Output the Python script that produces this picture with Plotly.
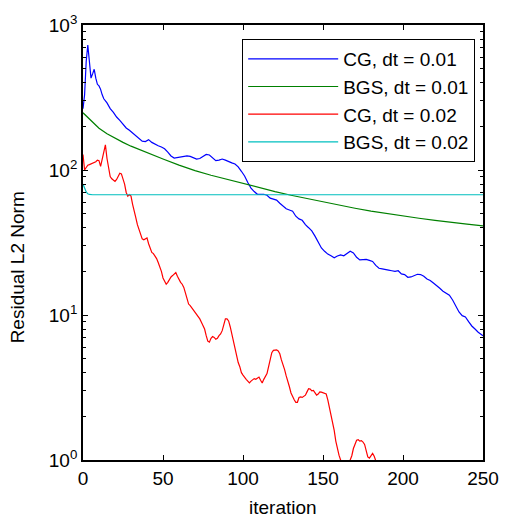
import plotly.graph_objects as go

# ---------------- data ----------------
cg1_it = [0, 1, 2, 3, 4, 5, 6, 7, 8, 9, 10, 11, 12, 13, 15, 17, 19, 21, 23, 25, 27, 29, 31, 33, 35, 37, 39,
          41, 43, 45, 47, 49, 51, 53, 55, 57, 59, 61, 63, 65, 67, 69, 71, 73, 75, 77, 79, 81, 83, 85, 87, 89,
          91, 93, 95, 97, 99, 101, 103, 105, 107, 109, 111, 113, 115, 117, 119, 121, 123, 125, 127, 129, 131,
          133, 135, 137, 139, 141, 143, 145, 147, 149, 151, 153, 155, 157, 159, 161, 163, 165, 167, 169, 171,
          173, 175, 177, 179, 181, 183, 185, 187, 189, 191, 193, 195, 197, 199, 201, 203, 205, 207, 209, 211,
          213, 215, 217, 219, 221, 223, 225, 227, 229, 231, 233, 235, 237, 239, 241, 243, 245, 247, 250]
cg1_val = [265, 330, 560, 728, 560, 430, 460, 495, 430, 390, 380, 360, 330, 310, 290, 265, 250, 232, 220, 208,
           195, 188, 180, 174, 165, 158, 157, 162, 155, 150, 147, 144, 140, 133, 125, 121, 122, 124, 125, 125,
           124, 121, 119, 120, 124, 128, 127, 121, 116, 117, 119, 117, 114, 112, 110, 105, 98, 91, 82, 75, 71,
           68, 68, 68, 67, 64, 63, 62, 59, 56, 54, 53, 52, 48, 46, 45, 42, 40, 38, 35, 32, 29, 27.5, 26.3, 25.6,
           24.8, 25.5, 26.0, 25.6, 26.5, 27.5, 26.8, 25, 24, 24, 24.2, 23.8, 23.4, 22, 21, 20.8, 20.7, 20.4, 20.2,
           20.0, 20.2, 19.2, 19.0, 18.2, 18.3, 18.8, 19.1, 19.0, 18.5, 17.7, 17.3, 16.6, 16.0, 15.3, 14.6, 14.1,
           13.7, 12.7, 11.5, 10.5, 9.9, 9.7, 9.0, 8.4, 8.0, 7.6, 7.2]

bgs1_it = [0, 5, 10, 15, 20, 25, 30, 40, 50, 60, 70, 80, 90, 100, 110, 120, 130, 140, 150, 160, 170, 180,
           190, 200, 210, 220, 230, 240, 250]
bgs1_val = [248, 218, 194, 178, 165, 155, 146, 131, 119, 108, 99, 92, 86, 81, 76, 71, 67, 63.5, 60, 57, 54.5,
            52, 50, 48, 46.5, 45, 43.5, 42.3, 41.2]

cg2_it = list(range(0, 162)) + [162, 164, 166, 167, 168, 169, 170, 171, 172, 173, 174, 175, 176, 177, 178,
                                179, 180, 181, 182, 183, 184, 186]
cg2_val = [128, 100, 104, 108, 109, 110, 112, 112, 114, 117, 116, 106, 118, 135, 149, 120, 100, 90, 87, 85,
           83.5, 86, 91, 95, 94, 87, 80, 70, 66, 67.6, 66, 58, 51, 47, 42, 39, 36, 33.5, 33, 33.5, 34, 31,
           28.5, 27, 26.5, 25.5, 24.5, 23, 21.5, 20, 18, 17, 16.3, 16.8, 17.6, 18.3, 18.7, 19.2, 19.6, 18.5,
           17.5, 16.8, 16.3, 15.5, 14.2, 12.8, 11.9, 11.6, 11.2, 10.8, 10.4, 10.2, 9.8, 9.4, 8.9, 8.4, 8.0,
           7.2, 6.6, 6.5, 6.9, 7.1, 7.0, 6.8, 6.9, 7.2, 7.4, 7.8, 8.8, 9.4, 9.4, 9.1, 8.3, 7.4, 6.6, 5.8, 5.1,
           4.7, 4.4, 4.0, 3.85, 3.7, 3.6, 3.5, 3.4, 3.5, 3.6, 3.64, 3.6, 3.65, 3.73, 3.55, 3.4, 3.6, 3.8, 3.94,
           4.4, 5.0, 5.5, 5.7, 5.75, 5.75, 5.65, 5.4, 4.9, 4.6, 4.2, 3.8, 3.4, 3.2, 2.9, 2.7, 2.6, 2.5, 2.5,
           2.7, 2.72, 2.7, 2.75, 2.8, 2.95, 3.1, 3.08, 3.0, 3.02, 2.9, 2.8, 2.85, 2.95, 2.94, 2.9, 2.88, 2.85,
           2.6, 2.3, 2.05, 1.85, 1.6, 1.35, 1.17, 1.08, 1.0,
           0.9, 0.8, 0.9, 1.0, 1.07, 1.2, 1.3, 1.37, 1.38, 1.35, 1.36, 1.33, 1.28, 1.15, 1.05, 1.03, 1.08,
           1.11, 1.06, 1.0, 0.92, 0.8]

bgs2_it = [0, 1, 2, 3, 4, 6, 50, 100, 150, 200, 250]
bgs2_val = [80, 74, 70.5, 68.5, 67.8, 67.5, 67.5, 67.5, 67.5, 67.5, 67.5]

series_names = ["CG, dt = 0.01", "BGS, dt = 0.01", "CG, dt = 0.02", "BGS, dt = 0.02"]
series_colors = ["#0000FF", "#008000", "#FF0000", "#00BFBF"]

x_ticks = [0, 50, 100, 150, 200, 250]
y_tickvals = [1, 10, 100, 1000]
y_ticktext = ["10<sup>0</sup>", "10<sup>1</sup>", "10<sup>2</sup>", "10<sup>3</sup>"]
y_minor = [m * 10 ** e for e in range(0, 3) for m in range(2, 10)]

# ---------------- figure ----------------
FONT = "Liberation Sans, Arial, Helvetica, sans-serif"
fig = go.Figure()
for i, (xs, ys) in enumerate([(cg1_it, cg1_val), (bgs1_it, bgs1_val), (cg2_it, cg2_val), (bgs2_it, bgs2_val)]):
    fig.add_trace(go.Scatter(x=xs, y=ys, mode="lines", name=series_names[i], legendgroup=str(i),
                             line=dict(color=series_colors[i], width=1.2)))

fig.update_layout(
    width=511, height=518,
    margin=dict(l=83, r=19, t=23, b=58),
    paper_bgcolor="white", plot_bgcolor="white",
    font=dict(family=FONT, size=19, color="black"),
    showlegend=True,
    legend=dict(x=(484 - 83) / 409, y=(460 - 37) / 437, xanchor="right", yanchor="top",
                bgcolor="white", bordercolor="black", borderwidth=1,
                font=dict(family=FONT, size=19, color="black"),
                itemwidth=90, tracegroupgap=0, traceorder="grouped"),
    xaxis=dict(range=[0, 250], tickvals=x_ticks, ticks="inside", ticklen=5, tickwidth=1.2,
               tickcolor="black", showline=True, linecolor="black", linewidth=1.8, mirror="ticks",
               showgrid=False, zeroline=False),
    yaxis=dict(type="log", range=[0, 3], tickvals=y_tickvals, ticktext=y_ticktext, ticks="inside",
               ticklen=5, tickwidth=1.2, tickcolor="black", showline=True, linecolor="black",
               linewidth=1.8, mirror="ticks", showgrid=False, zeroline=False,
               minor=dict(tickvals=y_minor, ticks="inside", ticklen=3, tickwidth=1, tickcolor="black",
                          showgrid=False)),
    annotations=[
        dict(text="iteration", xref="paper", yref="paper", x=0.5, y=(518 - 508 - 58) / 437,
             xanchor="center", yanchor="middle", showarrow=False, font=dict(size=19)),
        dict(text="Residual L2 Norm", xref="paper", yref="paper", x=(16 - 83) / 409,
             y=(460 - 266) / 437, xanchor="center", yanchor="middle", textangle=-90,
             showarrow=False, font=dict(size=19)),
    ],
)

fig.write_html("out.html")
